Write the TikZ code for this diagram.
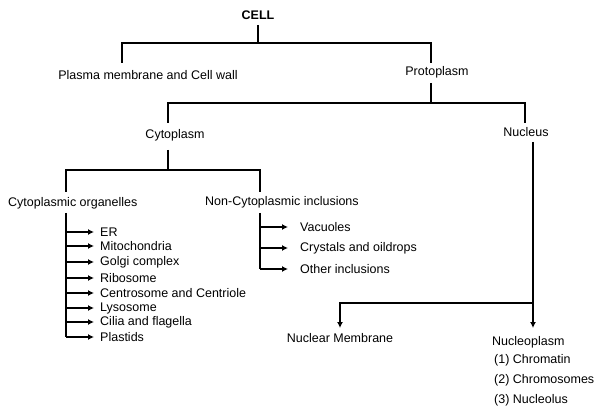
\documentclass[tikz,border=0pt]{standalone}
\usepackage{fontspec}
\setmainfont{Liberation Sans}
\usetikzlibrary{arrows.meta}
\begin{document}
\begin{tikzpicture}[x=1pt, y=-1pt,
    lbl/.style={inner sep=0pt, font=\fontsize{12.5}{14}\selectfont},
    item/.style={lbl, anchor=west},
    tree/.style={line width=1.3pt},
    arr/.style={line width=1.3pt, -{Latex[length=6pt,width=6pt]}}]
    \useasboundingbox (0,0) rectangle (600,414);
    \node[lbl, font=\fontsize{12.5}{14}\selectfont\bfseries] (cell) at (258,15) {CELL};
    \node[lbl] (pm) at (148,75) {Plasma membrane and Cell wall};
    \node[lbl] (proto) at (437,72) {Protoplasm};
    \node[lbl] (cyto) at (175,135) {Cytoplasm};
    \node[lbl] (nuc) at (526,132) {Nucleus};
    \node[item] (org) at (8,203) {Cytoplasmic organelles};
    \node[item] (inc) at (205,202) {Non-Cytoplasmic inclusions};
    % tree lines
    \coordinate (c1) at (258,43);
    \draw[tree] (258,25) -- (c1) (122,63) |- (c1) -| (431,63);
    \draw[tree] (431,83) -- (431,103) (168,123) |- (431,103) -| (525,123);
    \draw[tree] (168,150) -- (168,170) (66,192) |- (168,170) -| (260,192);
    % organelles
    \coordinate (ot) at (66,213);
    \coordinate (ob) at (66,337);
    \draw[tree] (ot) -- (ob);
    \foreach \y/\t in {232/ER, 246/Mitochondria, 262/Golgi complex, 278/Ribosome,
        293/Centrosome and Centriole, 308/Lysosome, 322/Cilia and flagella, 337/Plastids} {
        \node[item] (o\y) at (100,\y) {\t};
        \draw[arr] (66,\y) -- (94,\y);
    }
    % inclusions
    \draw[tree] (260,213) -- (260,269);
    \foreach \y/\t in {227/Vacuoles, 248/Crystals and oildrops, 269/Other inclusions} {
        \node[item] (i\y) at (300,\y) {\t};
        \draw[arr] (260,\y) -- (288,\y);
    }
    % nucleus
    \node[lbl] (nm) at (340,338) {Nuclear Membrane};
    \node[item] (np) at (492,342) {Nucleoplasm};
    \node[item] (n1) at (494,360) {(1) Chromatin};
    \node[item] (n2) at (494,380) {(2) Chromosomes};
    \node[item] (n3) at (494,400) {(3) Nucleolus};
    \coordinate (nt) at (533,142);
    \coordinate (nb) at (533,303);
    \draw[arr] (nt) -- (533,328);
    \draw[arr] (nb) -| (340,328);
\end{tikzpicture}
\end{document}
